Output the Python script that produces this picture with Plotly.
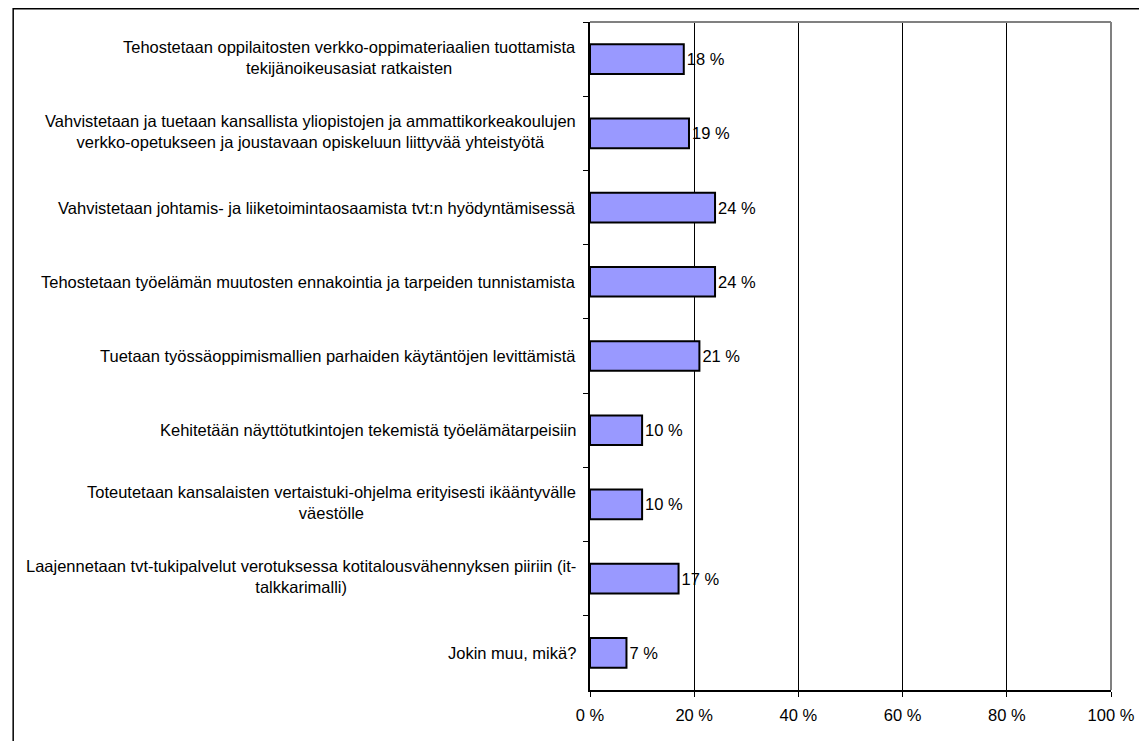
import plotly.graph_objects as go

categories = [
    "Tehostetaan oppilaitosten verkko-oppimateriaalien tuottamista<br>tekijänoikeusasiat ratkaisten",
    "Vahvistetaan ja tuetaan kansallista yliopistojen ja ammattikorkeakoulujen<br>verkko-opetukseen ja joustavaan opiskeluun liittyvää yhteistyötä",
    "Vahvistetaan johtamis- ja liiketoimintaosaamista tvt:n hyödyntämisessä",
    "Tehostetaan työelämän muutosten ennakointia ja tarpeiden tunnistamista",
    "Tuetaan työssäoppimismallien parhaiden käytäntöjen levittämistä",
    "Kehitetään näyttötutkintojen tekemistä työelämätarpeisiin",
    "Toteutetaan kansalaisten vertaistuki-ohjelma erityisesti ikääntyvälle<br>väestölle",
    "Laajennetaan tvt-tukipalvelut verotuksessa kotitalousvähennyksen piiriin (it-<br>talkkarimalli)",
    "Jokin muu, mikä?",
]
values = [18, 19, 24, 24, 21, 10, 10, 17, 7]
x_ticks = [0, 20, 40, 60, 80, 100]
x_tick_labels = ["0 %", "20 %", "40 %", "60 %", "80 %", "100 %"]

FONT = "Liberation Sans, Arial, sans-serif"
FS = 16.5
keys = [f"c{i}" for i in range(len(categories))]

# page has an 8px body margin, so the figure is 8px smaller than the window
W, H = 1139, 733
L, R, T, B = 582, 32, 14, 51
pw, ph = W - L - R, H - T - B

fig = go.Figure()
fig.add_trace(
    go.Bar(
        x=values, y=keys, orientation="h",
        marker=dict(color="#9999FF", line=dict(color="#000000", width=2)),
        width=0.4,
        text=[f"{v} %" for v in values], textposition="outside",
        textfont=dict(family=FONT, size=FS, color="#000000"),
        cliponaxis=False,
    )
)

# category labels, centred lines like the original
for k, label in zip(keys, categories):
    fig.add_annotation(
        x=0, xref="paper", y=k, yref="y", text=label,
        xanchor="right", align="center", showarrow=False, xshift=-12,
        yshift=2 if "<br>" in label else 0,
        font=dict(family=FONT, size=FS, color="#000000"),
    )

shapes = [
    # grey top / right plot border
    dict(type="line", xref="paper", yref="paper", x0=0, x1=1, y0=1, y1=1,
         line=dict(color="#808080", width=2)),
    dict(type="line", xref="paper", yref="paper", x0=1, x1=1, y0=0, y1=1,
         line=dict(color="#808080", width=2)),
    # outer chart frame
    dict(type="rect", xref="paper", yref="paper",
         x0=(0.75 - L) / pw, x1=(W + 5 - L) / pw,
         y0=-(B + 5) / ph, y1=1 + (T - 0.75) / ph,
         line=dict(color="#000000", width=1.5)),
]

fig.update_layout(
    width=W, height=H,
    margin=dict(l=L, r=R, t=T, b=B),
    paper_bgcolor="white", plot_bgcolor="white",
    showlegend=False,
    shapes=shapes,
    font=dict(family=FONT, size=FS, color="#000000"),
    xaxis=dict(
        range=[0, 100], tickvals=x_ticks, ticktext=x_tick_labels,
        showgrid=True, gridcolor="#000000", gridwidth=1,
        showline=True, linecolor="#000000", linewidth=1.5,
        ticks="outside", ticklen=5, tickcolor="#000000",
        ticklabelstandoff=4,
        zeroline=False, fixedrange=True,
        tickfont=dict(family=FONT, size=FS, color="#000000"),
    ),
    yaxis=dict(
        categoryorder="array", categoryarray=keys, autorange="reversed",
        showticklabels=False, tickson="boundaries",
        ticks="outside", ticklen=5, tickcolor="#000000",
        showline=True, linecolor="#000000", linewidth=1.5,
        showgrid=False, zeroline=False, fixedrange=True,
    ),
)

fig.write_html("out.html")
